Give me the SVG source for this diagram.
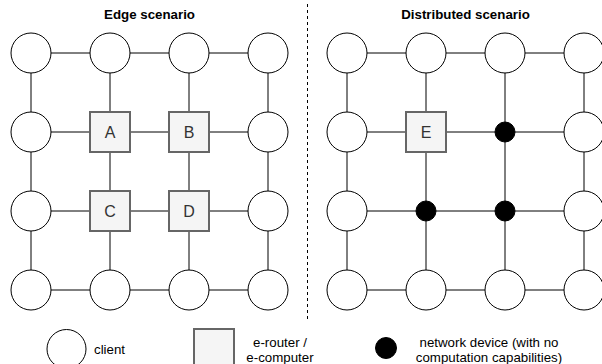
<svg xmlns="http://www.w3.org/2000/svg" width="602" height="364" viewBox="0 0 602 364">
<style>
.t{font-family:"Liberation Sans",Arial,Helvetica,sans-serif;font-size:13.3px;fill:#000}
.title{font-weight:bold;text-anchor:middle}
.lbl{font-family:"Liberation Sans",Arial,Helvetica,sans-serif;font-size:16px;fill:#333;text-anchor:middle}
.c{fill:#fff;stroke:#000;stroke-width:1}
.sq{fill:#f5f5f5;stroke:#666;stroke-width:2}
.dot{fill:#000;stroke:#000;stroke-width:1}
.e{stroke:#000;stroke-width:1;fill:none}
</style>
<rect width="602" height="364" fill="#fff"/>
<text class="t title" x="149.5" y="19">Edge scenario</text>
<text class="t title" x="465.5" y="19">Distributed scenario</text>
<line id="divider" x1="307.5" y1="4" x2="307.5" y2="319" stroke="#000" stroke-width="1" stroke-dasharray="3 3"/>
<g id="connectors" class="e">
<path d="M31 53H268M31 132H268M31 211H268M31 290H268M31 53V290M110 53V290M189 53V290M268 53V290"/>
<path d="M347 53H584M347 132H584M347 211H584M347 290H584M347 53V290M426 53V290M505 53V290M584 53V290"/>
</g>
<g id="edge-nodes">
<g id="L11"><circle class="c" cx="31" cy="53" r="20"/></g>
<g id="L12"><circle class="c" cx="110" cy="53" r="20"/></g>
<g id="L13"><circle class="c" cx="189" cy="53" r="20"/></g>
<g id="L14"><circle class="c" cx="268" cy="53" r="20"/></g>
<g id="L21"><circle class="c" cx="31" cy="132" r="20"/></g>
<g id="A"><rect class="sq" x="90" y="112" width="40" height="40"/><text class="lbl" x="110" y="138">A</text></g>
<g id="B"><rect class="sq" x="169" y="112" width="40" height="40"/><text class="lbl" x="189" y="138">B</text></g>
<g id="L24"><circle class="c" cx="268" cy="132" r="20"/></g>
<g id="L31"><circle class="c" cx="31" cy="211" r="20"/></g>
<g id="C"><rect class="sq" x="90" y="191" width="40" height="40"/><text class="lbl" x="110" y="217">C</text></g>
<g id="D"><rect class="sq" x="169" y="191" width="40" height="40"/><text class="lbl" x="189" y="217">D</text></g>
<g id="L34"><circle class="c" cx="268" cy="211" r="20"/></g>
<g id="L41"><circle class="c" cx="31" cy="290" r="20"/></g>
<g id="L42"><circle class="c" cx="110" cy="290" r="20"/></g>
<g id="L43"><circle class="c" cx="189" cy="290" r="20"/></g>
<g id="L44"><circle class="c" cx="268" cy="290" r="20"/></g>
</g>
<g id="dist-nodes">
<g id="R11"><circle class="c" cx="347" cy="53" r="20"/></g>
<g id="R12"><circle class="c" cx="426" cy="53" r="20"/></g>
<g id="R13"><circle class="c" cx="505" cy="53" r="20"/></g>
<g id="R14"><circle class="c" cx="584" cy="53" r="20"/></g>
<g id="R21"><circle class="c" cx="347" cy="132" r="20"/></g>
<g id="E"><rect class="sq" x="406" y="112" width="40" height="40"/><text class="lbl" x="426" y="138">E</text></g>
<g id="N1"><circle class="dot" cx="505" cy="132" r="10"/></g>
<g id="R24"><circle class="c" cx="584" cy="132" r="20"/></g>
<g id="R31"><circle class="c" cx="347" cy="211" r="20"/></g>
<g id="N2"><circle class="dot" cx="426" cy="211" r="10"/></g>
<g id="N3"><circle class="dot" cx="505" cy="211" r="10"/></g>
<g id="R34"><circle class="c" cx="584" cy="211" r="20"/></g>
<g id="R41"><circle class="c" cx="347" cy="290" r="20"/></g>
<g id="R42"><circle class="c" cx="426" cy="290" r="20"/></g>
<g id="R43"><circle class="c" cx="505" cy="290" r="20"/></g>
<g id="R44"><circle class="c" cx="584" cy="290" r="20"/></g>
</g>
<g id="legend">
<g id="leg-client"><circle class="c" cx="66.5" cy="349" r="19.5"/><text class="t" x="94" y="354">client</text></g>
<g id="leg-erouter"><rect class="sq" x="194" y="329" width="40" height="40"/><text class="t" x="280" y="347" text-anchor="middle">e-router /</text><text class="t" x="280" y="362" text-anchor="middle">e-computer</text></g>
<g id="leg-netdev"><circle class="dot" cx="386" cy="348" r="10.5"/><text class="t" x="489" y="347" text-anchor="middle">network device (with no</text><text class="t" x="489" y="362" text-anchor="middle">computation capabilities)</text></g>
</g>
</svg>
